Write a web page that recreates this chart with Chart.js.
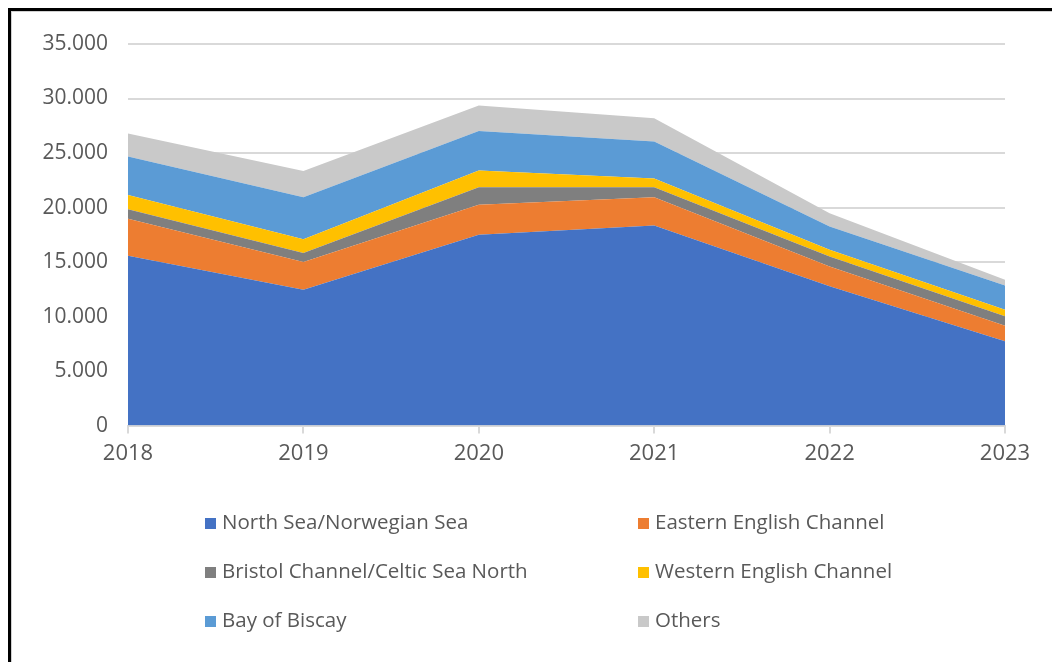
<!DOCTYPE html>
<html>
<head>
<meta charset="utf-8">
<script src="https://cdn.jsdelivr.net/npm/chart.js@4.4.1/dist/chart.umd.min.js"></script>
<style>
  html, body { margin: 0; padding: 0; background: #fff; overflow: hidden; }
  #wrap { position: relative; width: 1052px; height: 662px; }
  #frame { position: absolute; left: 8px; top: 8px; width: 1100px; height: 700px;
           border: 3px solid #000; box-shadow: inset 1px 1px 0 #d0d0d0; }
  #chart { position: absolute; left: 0; top: 0; }
  .item { position: absolute; font-family: "Open Sans", sans-serif; font-size: 20.5px;
          color: #595959; white-space: nowrap; line-height: 20px; }
  .item span.box { display: inline-block; width: 11px; height: 11px; margin-right: 6px; }
</style>
</head>
<body>
<div id="wrap">
  <div id="frame"></div>
  <canvas id="chart" width="1052" height="662"></canvas>
  <div id="legend"></div>
</div>
<script>
const years = ['2018', '2019', '2020', '2021', '2022', '2023'];

const northSea = [15580, 12460, 17500, 18350, 12770, 7730];
const easternChannel = [3390, 2540, 2750, 2600, 1830, 1430];
const bristolCeltic = [880, 820, 1620, 920, 910, 860];
const westernChannel = [1290, 1280, 1530, 790, 620, 610];
const bayOfBiscay = [3540, 3850, 3630, 3400, 2130, 2230];
const others = [2100, 2410, 2320, 2130, 1220, 520];

const labels = ['North Sea/Norwegian Sea', 'Eastern English Channel',
  'Bristol Channel/Celtic Sea North', 'Western English Channel',
  'Bay of Biscay', 'Others'];
const colors = ['#4472C4', '#ED7D31', '#7F7F7F', '#FFC000', '#5B9BD5', '#C9C9C9'];
const series = [northSea, easternChannel, bristolCeltic, westernChannel, bayOfBiscay, others];

function dotThousands(v) {
  return v.toString().replace(/\B(?=(\d{3})+(?!\d))/g, '.');
}

const datasets = series.map((d, i) => ({
  label: labels[i],
  data: d,
  backgroundColor: colors[i],
  borderColor: colors[i],
  borderWidth: 0,
  pointRadius: 0,
  fill: i === 0 ? 'origin' : '-1',
  tension: 0
}));

const ctx = document.getElementById('chart').getContext('2d');
const myChart = new Chart(ctx, {
  type: 'line',
  data: { labels: years, datasets: datasets },
  options: {
    responsive: false,
    animation: false,
    layout: { padding: { top: 44, right: 47, bottom: 188, left: 0 } },
    plugins: { legend: { display: false }, tooltip: { enabled: false } },
    scales: {
      x: {
        grid: { drawOnChartArea: false, drawTicks: true, tickLength: 8, color: '#D9D9D9', lineWidth: 2 },
        border: { display: true, color: '#D9D9D9', width: 2 },
        ticks: { color: '#595959', font: { family: 'Open Sans', size: 22 }, padding: 7, maxRotation: 0 }
      },
      y: {
        stacked: true,
        min: 0,
        max: 35000,
        afterFit: scale => { scale.width = 128; },
        grid: { color: '#D9D9D9', lineWidth: 2, drawTicks: false },
        border: { display: false },
        ticks: {
          stepSize: 5000,
          color: '#595959',
          font: { family: 'Open Sans', size: 21 },
          padding: 20,
          callback: v => dotThousands(v)
        }
      }
    }
  }
});

// legend in two columns, three rows
const legend = document.getElementById('legend');
const colX = [205, 638];
const rowY = [511, 560, 609];
labels.forEach((name, i) => {
  const el = document.createElement('div');
  el.className = 'item';
  el.style.left = colX[i % 2] + 'px';
  el.style.top = rowY[Math.floor(i / 2)] + 'px';
  el.innerHTML = '<span class="box" style="background:' + colors[i] + '"></span>' + name;
  legend.appendChild(el);
});
</script>
</body>
</html>
